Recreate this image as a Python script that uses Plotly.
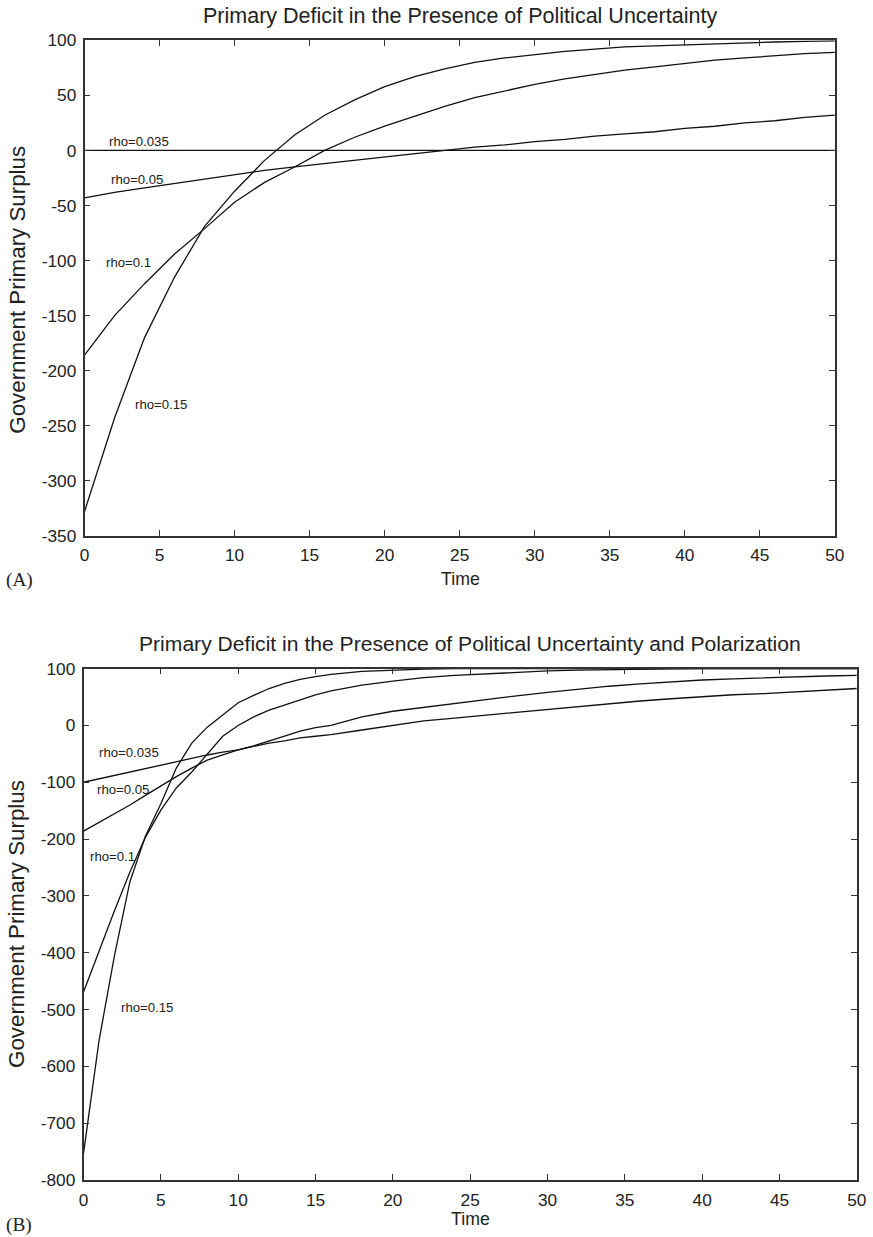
import plotly.graph_objects as go

# ---------------- Panel A data ----------------
t_a = [0, 2, 4, 6, 8, 10, 12, 14, 16, 18, 20, 22, 24, 26, 28, 30, 32, 34, 36, 38, 40, 42, 44, 46, 48, 50]
a_rho_035 = [0] * len(t_a)
a_rho_05 = [-43, -38, -34, -30, -26, -22, -18, -15, -12, -9, -6, -3, 0, 3, 5, 8, 10, 13, 15, 17, 20, 22, 25, 27, 30, 32]
a_rho_1 = [-186, -150, -121, -94, -71, -47, -29, -15, 0, 12, 22, 31, 40, 48, 54, 60, 65, 69, 73, 76, 79, 82, 84, 86, 88, 89]
a_rho_15 = [-328, -243, -170, -115, -69, -37, -9, 14, 32, 46, 58, 67, 74, 80, 84, 87, 90, 92, 94, 95, 96, 97, 98, 98.5, 99, 99.5]

# ---------------- Panel B data ----------------
t_b = [0, 1, 2, 3, 4, 5, 6, 7, 8, 9, 10, 11, 12, 13, 14, 15, 16, 18, 20, 22, 24, 26, 28, 30, 32, 34, 36, 38, 40, 42, 44, 46, 48, 50]
b_rho_035 = [-100, -94, -87, -81, -75, -69, -64, -58, -52, -47, -43, -37, -31, -27, -22, -19, -16, -8, 0, 8, 13, 18, 24, 29, 34, 39, 43, 47, 51, 54, 56, 59, 62, 65]
b_rho_05 = [-186, -171, -156, -140, -123, -106, -90, -75, -61, -52, -43, -36, -28, -19, -10, -4, 0, 15, 25, 32, 38, 45, 52, 58, 64, 69, 73, 77, 80, 82, 84, 86, 87, 88]
b_rho_1 = [-469, -396, -326, -258, -197, -149, -110, -82, -50, -19, 0, 15, 27, 36, 46, 54, 61, 71, 78, 84, 88, 91, 94, 96, 97.5, 98.5, 99, 99.5, 100, 100, 100, 100, 100, 100]
b_rho_15 = [-753, -555, -405, -275, -195, -138, -75, -31, -3, 19, 40, 53, 65, 74, 81, 86, 90, 95, 97.5, 99, 100, 100, 100, 100, 100, 100, 100, 100, 100, 100, 100, 100, 100, 100]

x_ticks = [0, 5, 10, 15, 20, 25, 30, 35, 40, 45, 50]
a_y_ticks = [100, 50, 0, -50, -100, -150, -200, -250, -300, -350]
b_y_ticks = [100, 0, -100, -200, -300, -400, -500, -600, -700, -800]

title_a = "Primary Deficit in the Presence of Political Uncertainty"
title_b = "Primary Deficit in the Presence of Political Uncertainty and Polarization"
y_title = "Government Primary Surplus"
x_title = "Time"

labels_a = [("rho=0.035", 1.53, 8.2), ("rho=0.05", 1.6, -26.3), ("rho=0.1", 1.33, -101.6), ("rho=0.15", 3.26, -231)]
labels_b = [("rho=0.035", 0.88, -47.6), ("rho=0.05", 0.75, -113), ("rho=0.1", 0.32, -230), ("rho=0.15", 2.32, -496)]

W, H = 873, 1237
FONT = "Liberation Sans, Arial, Helvetica, sans-serif"
SERIF = "Liberation Serif, Times New Roman, serif"
TXT = "#222222"
LINE = "#111111"
AX = "#333333"

# observed viewer transform: shown = offset + scale * layout pixel
SC, OX, OY = 0.985, 4.3, 8.6


def px_x(p):
    return ((p - OX) / SC) / W


def px_y(p):
    return 1 - ((p - OY) / SC) / H


def fs(s):
    return s / SC


fig = go.Figure()
line_style = dict(color=LINE, width=1.3)
for ys in (a_rho_035, a_rho_05, a_rho_1, a_rho_15):
    fig.add_trace(go.Scatter(x=t_a, y=ys, mode="lines", line=line_style, xaxis="x", yaxis="y", showlegend=False))
for ys in (b_rho_035, b_rho_05, b_rho_1, b_rho_15):
    fig.add_trace(go.Scatter(x=t_b, y=ys, mode="lines", line=line_style, xaxis="x2", yaxis="y2", showlegend=False))

axis_common = dict(
    showgrid=False, zeroline=False, showline=True, linecolor=AX, linewidth=1.6,
    mirror="ticks", ticks="inside", ticklen=6, tickwidth=1.2, tickcolor=AX,
    tickfont=dict(family=FONT, size=fs(17), color=TXT), ticklabelstandoff=3,
)

fig.update_layout(
    width=W, height=H,
    margin=dict(l=0, r=0, t=0, b=0),
    paper_bgcolor="white", plot_bgcolor="white",
    xaxis=dict(domain=[px_x(84), px_x(836)], range=[0, 50], tickvals=x_ticks,
               ticktext=[str(v) for v in x_ticks], anchor="y", **axis_common),
    yaxis=dict(domain=[px_y(535), px_y(39)], range=[-350, 100], tickvals=a_y_ticks,
               ticktext=[str(v) for v in a_y_ticks], anchor="x", **axis_common),
    xaxis2=dict(domain=[px_x(83), px_x(858)], range=[0, 50], tickvals=x_ticks,
                ticktext=[str(v) for v in x_ticks], anchor="y2", **axis_common),
    yaxis2=dict(domain=[px_y(1180), px_y(668)], range=[-800, 100], tickvals=b_y_ticks,
                ticktext=[str(v) for v in b_y_ticks], anchor="x2", **axis_common),
)

ann = []


def add_text(text, x, y, size, xanchor="center", yanchor="middle", angle=0, family=FONT):
    ann.append(dict(text=text, x=px_x(x), y=px_y(y), xref="paper", yref="paper",
                    xanchor=xanchor, yanchor=yanchor, showarrow=False, textangle=angle,
                    font=dict(family=family, size=fs(size), color=TXT)))


add_text(title_a, 460, 14.5, 21.2)
add_text(title_b, 470, 643, 20.8)
add_text(x_title, 461, 578, 17.5)
add_text(x_title, 471, 1219, 17.5)
add_text(y_title, 16, 289, 22, angle=-90)
add_text(y_title, 16, 924, 22, angle=-90)
add_text("(A)", 3, 579, 19, xanchor="left", family=SERIF)
add_text("(B)", 3, 1225, 19, xanchor="left", family=SERIF)

for txt, x, y in labels_a:
    ann.append(dict(text=txt, x=x, y=y, xref="x", yref="y", xanchor="left", yanchor="middle",
                    showarrow=False, font=dict(family=FONT, size=fs(13), color=TXT)))
for txt, x, y in labels_b:
    ann.append(dict(text=txt, x=x, y=y, xref="x2", yref="y2", xanchor="left", yanchor="middle",
                    showarrow=False, font=dict(family=FONT, size=fs(13), color=TXT)))

fig.update_layout(annotations=ann)
fig.write_html("out.html")
